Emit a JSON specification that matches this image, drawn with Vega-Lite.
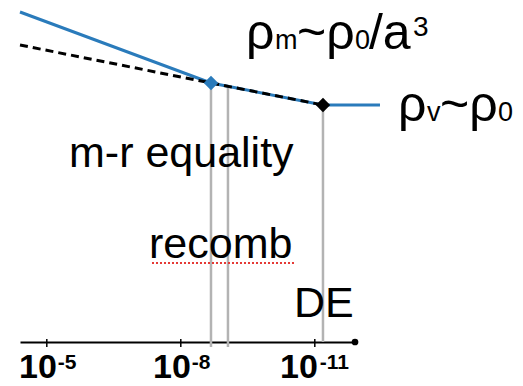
{
  "$schema": "https://vega.github.io/schema/vega-lite/v6.json",
  "width": 335,
  "height": 342,
  "autosize": {"type": "none"},
  "padding": {"left": 20, "top": 0, "right": 168, "bottom": 44},
  "config": {"view": {"stroke": null}, "text": {"font": "Liberation Sans", "color": "black"}},
  "datasets": {
    "blue": [{"e": -4.4, "y": 330}, {"e": -8.676, "y": 259}, {"e": -11.183, "y": 237}, {"e": -12.459, "y": 237}],
    "dash": [{"e": -4.4, "y": 297}, {"e": -8.676, "y": 259}, {"e": -11.183, "y": 237}],
    "points": [{"e": -8.676, "y": 259, "kind": "equality"}, {"e": -11.183, "y": 237, "kind": "DE"}],
    "epochs": [
      {"e": -8.676, "y": 259, "y2": -5, "name": "m-r equality"},
      {"e": -9.056, "y": 255.7, "y2": -5, "name": "recomb"},
      {"e": -11.183, "y": 237, "y2": 0, "name": "DE"}
    ],
    "decades": [{"e": -5, "base": "10", "exp": "-5"}, {"e": -8, "base": "10", "exp": "-8"}, {"e": -11, "base": "10", "exp": "-11"}],
    "axisEnd": [{"e": -11.9, "y": 0}],
    "underline": [{"e": -7.355, "e2": -10.556, "y": 79}],
    "notes": [
      {"e": -5.497, "y": 175, "text": "m-r equality", "role": "label"},
      {"e": -7.288, "y": 84, "text": "recomb", "role": "label"},
      {"e": -10.534, "y": 25, "text": "DE", "role": "label"},
      {"e": -9.459, "y": 293, "text": "ρ", "role": "main"},
      {"e": -10.109, "y": 293, "text": "m", "role": "sub"},
      {"e": -10.601, "y": 293, "text": "~ρ", "role": "main"},
      {"e": -11.899, "y": 293, "text": "0", "role": "sub"},
      {"e": -12.213, "y": 293, "text": "/a", "role": "main"},
      {"e": -13.197, "y": 306, "text": "3", "role": "sup"},
      {"e": -12.862, "y": 221, "text": "ρ", "role": "main"},
      {"e": -13.512, "y": 221, "text": "v", "role": "sub"},
      {"e": -13.803, "y": 221, "text": "~ρ", "role": "main"},
      {"e": -15.101, "y": 221, "text": "0", "role": "sub"}
    ]
  },
  "encoding": {
    "x": {
      "field": "e",
      "type": "quantitative",
      "scale": {"domain": [-11.9, -4.4], "reverse": true, "nice": false, "zero": false},
      "axis": {"domain": true, "domainColor": "black", "domainWidth": 2, "ticks": false, "labels": false, "grid": false, "title": null}
    }
  },
  "layer": [
    {
      "data": {"name": "epochs"},
      "mark": {"type": "rule", "color": "#b3b3b3", "strokeWidth": 2.5},
      "encoding": {
        "y": {"field": "y", "type": "quantitative", "scale": {"domain": [0, 342], "nice": false, "zero": false}, "axis": null},
        "y2": {"field": "y2"}
      }
    },
    {
      "data": {"name": "decades"},
      "mark": {"type": "rule", "color": "black", "strokeWidth": 1.5},
      "encoding": {
        "y": {"datum": -5, "type": "quantitative", "scale": {"domain": [0, 342], "nice": false, "zero": false}, "axis": null},
        "y2": {"datum": 3}
      }
    },
    {
      "data": {"name": "axisEnd"},
      "mark": {"type": "point", "filled": true, "color": "black", "size": 45, "opacity": 1},
      "encoding": {
        "y": {"field": "y", "type": "quantitative", "scale": {"domain": [0, 342], "nice": false, "zero": false}, "axis": null}
      }
    },
    {
      "data": {"name": "blue"},
      "mark": {"type": "line", "color": "#2A7BBB", "strokeWidth": 3},
      "encoding": {
        "y": {"field": "y", "type": "quantitative", "scale": {"domain": [0, 342], "nice": false, "zero": false}, "axis": null}
      }
    },
    {
      "data": {"name": "dash"},
      "mark": {"type": "line", "color": "black", "strokeWidth": 3, "strokeDash": [8, 5]},
      "encoding": {
        "y": {"field": "y", "type": "quantitative", "scale": {"domain": [0, 342], "nice": false, "zero": false}, "axis": null}
      }
    },
    {
      "data": {"name": "points"},
      "transform": [{"filter": "datum.kind === 'equality'"}],
      "mark": {"type": "point", "shape": "diamond", "filled": true, "color": "#2A7BBB", "size": 210, "opacity": 1},
      "encoding": {
        "y": {"field": "y", "type": "quantitative", "scale": {"domain": [0, 342], "nice": false, "zero": false}, "axis": null}
      }
    },
    {
      "data": {"name": "points"},
      "transform": [{"filter": "datum.kind === 'DE'"}],
      "mark": {"type": "point", "shape": "diamond", "filled": true, "color": "black", "size": 210, "opacity": 1},
      "encoding": {
        "y": {"field": "y", "type": "quantitative", "scale": {"domain": [0, 342], "nice": false, "zero": false}, "axis": null}
      }
    },
    {
      "data": {"name": "underline"},
      "mark": {"type": "rule", "color": "#e53935", "strokeWidth": 2, "strokeDash": [2, 2]},
      "encoding": {
        "y": {"field": "y", "type": "quantitative", "scale": {"domain": [0, 342], "nice": false, "zero": false}, "axis": null},
        "x2": {"field": "e2"}
      }
    },
    {
      "data": {"name": "notes"},
      "transform": [{"filter": "datum.role === 'label'"}],
      "mark": {"type": "text", "align": "left", "baseline": "alphabetic", "fontSize": 43},
      "encoding": {
        "y": {"field": "y", "type": "quantitative", "scale": {"domain": [0, 342], "nice": false, "zero": false}, "axis": null},
        "text": {"field": "text"}
      }
    },
    {
      "data": {"name": "notes"},
      "transform": [{"filter": "datum.role === 'main'"}],
      "mark": {"type": "text", "align": "left", "baseline": "alphabetic", "fontSize": 50},
      "encoding": {
        "y": {"field": "y", "type": "quantitative", "scale": {"domain": [0, 342], "nice": false, "zero": false}, "axis": null},
        "text": {"field": "text"}
      }
    },
    {
      "data": {"name": "notes"},
      "transform": [{"filter": "datum.role === 'sub'"}],
      "mark": {"type": "text", "align": "left", "baseline": "alphabetic", "fontSize": 27},
      "encoding": {
        "y": {"field": "y", "type": "quantitative", "scale": {"domain": [0, 342], "nice": false, "zero": false}, "axis": null},
        "text": {"field": "text"}
      }
    },
    {
      "data": {"name": "notes"},
      "transform": [{"filter": "datum.role === 'sup'"}],
      "mark": {"type": "text", "align": "left", "baseline": "alphabetic", "fontSize": 28},
      "encoding": {
        "y": {"field": "y", "type": "quantitative", "scale": {"domain": [0, 342], "nice": false, "zero": false}, "axis": null},
        "text": {"field": "text"}
      }
    },
    {
      "data": {"name": "decades"},
      "transform": [{"filter": "datum.e !== -11"}],
      "mark": {"type": "text", "align": "right", "baseline": "alphabetic", "fontSize": 34, "fontWeight": "bold", "dx": 10, "dy": 36},
      "encoding": {
        "y": {"datum": 0, "type": "quantitative", "scale": {"domain": [0, 342], "nice": false, "zero": false}, "axis": null},
        "text": {"field": "base"}
      }
    },
    {
      "data": {"name": "decades"},
      "transform": [{"filter": "datum.e === -11"}],
      "mark": {"type": "text", "align": "right", "baseline": "alphabetic", "fontSize": 34, "fontWeight": "bold", "dx": 3, "dy": 36},
      "encoding": {
        "y": {"datum": 0, "type": "quantitative", "scale": {"domain": [0, 342], "nice": false, "zero": false}, "axis": null},
        "text": {"field": "base"}
      }
    },
    {
      "data": {"name": "decades"},
      "transform": [{"filter": "datum.e !== -11"}],
      "mark": {"type": "text", "align": "left", "baseline": "alphabetic", "fontSize": 21, "fontWeight": "bold", "dx": 11, "dy": 27},
      "encoding": {
        "y": {"datum": 0, "type": "quantitative", "scale": {"domain": [0, 342], "nice": false, "zero": false}, "axis": null},
        "text": {"field": "exp"}
      }
    },
    {
      "data": {"name": "decades"},
      "transform": [{"filter": "datum.e === -11"}],
      "mark": {"type": "text", "align": "left", "baseline": "alphabetic", "fontSize": 21, "fontWeight": "bold", "dx": 5, "dy": 27},
      "encoding": {
        "y": {"datum": 0, "type": "quantitative", "scale": {"domain": [0, 342], "nice": false, "zero": false}, "axis": null},
        "text": {"field": "exp"}
      }
    }
  ]
}
